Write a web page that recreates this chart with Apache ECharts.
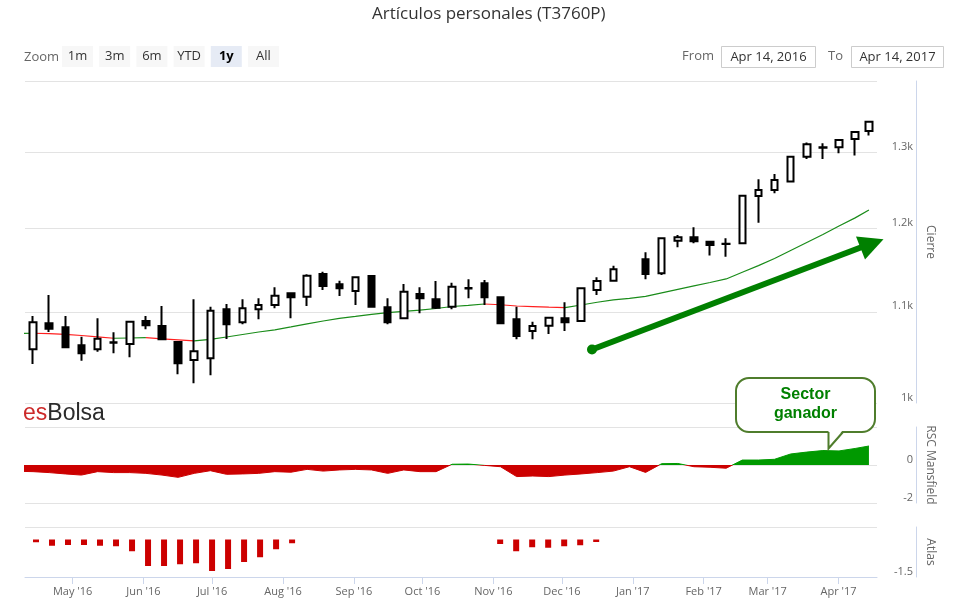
<!DOCTYPE html>
<html><head><meta charset="utf-8">
<script src="https://cdn.jsdelivr.net/npm/echarts@6/dist/echarts.min.js"></script>
<style>html,body{margin:0;padding:0;background:#fff}#c{width:954px;height:608px}</style>
</head><body><div id="c"></div>
<script>
// ---------- DATA ----------
const weekDates = ['2016-04-15','2016-04-22','2016-04-29','2016-05-06','2016-05-13','2016-05-20','2016-05-27',
 '2016-06-03','2016-06-10','2016-06-17','2016-06-24','2016-07-01','2016-07-08','2016-07-15','2016-07-22','2016-07-29',
 '2016-08-05','2016-08-12','2016-08-19','2016-08-26','2016-09-02','2016-09-09','2016-09-16','2016-09-23','2016-09-30',
 '2016-10-07','2016-10-14','2016-10-21','2016-10-28','2016-11-04','2016-11-11','2016-11-18','2016-11-25','2016-12-02',
 '2016-12-09','2016-12-16','2016-12-23','2016-12-30','2017-01-06','2017-01-13','2017-01-20','2017-01-27','2017-02-03',
 '2017-02-10','2017-02-17','2017-02-24','2017-03-03','2017-03-10','2017-03-17','2017-03-24','2017-03-31','2017-04-07','2017-04-13'];
const opens  = [1057.7,1086.9,1082.3,1062.2,1057.7,1065.0,1063.6,1089.5,1083.8,1065.8,1046.0,1047.8,1102.9,1088.0,1102.9,1107.8,
 1121.5,1117.5,1144.4,1132.1,1124.2,1142.0,1105.2,1092.6,1120.7,1114.5,1105.9,1127.0,1133.3,1116.8,1091.4,1078.2,1084.2,1092.6,
 1089.5,1125.4,1136.4,null,1162.1,1145.2,1184.9,1189.1,1183.6,1180.6,1181.7,1241.6,1249.4,1260.3,1293.6,1305.6,1306.4,1317.8,1328.8];
const closes = [1088.0,1080.8,1060.0,1053.3,1069.5,1065.6,1088.7,1084.6,1068.8,1042.4,1055.5,1101.3,1085.7,1104.0,1107.8,1118.7,
 1116.8,1142.3,1130.1,1127.4,1140.4,1105.9,1088.0,1123.4,1115.6,1104.7,1129.3,1127.8,1116.8,1086.9,1072.5,1083.8,1093.3,1088.0,
 1127.4,1136.0,1150.0,null,1144.4,1187.9,1189.1,1184.1,1179.6,1181.0,1241.9,1249.4,1262.5,1293.6,1310.5,1306.2,1316.4,1327.5,1341.8];
const lows   = [1041.6,1077.0,1060.0,1045.2,1055.1,1053.3,1048.9,1080.1,1068.8,1030.5,1020.8,1029.4,1069.2,1085.7,1091.4,1104.0,
 1092.6,1106.7,1125.4,1118.3,1107.8,1104.7,1085.7,1092.6,1098.3,1103.3,1102.9,1115.6,1107.8,1085.7,1068.8,1068.8,1074.8,1078.2,
 1089.5,1119.5,1135.0,null,1138.0,1143.1,1176.7,1181.7,1166.5,1165.2,1181.7,1207.4,1245.0,1259.5,1290.5,1290.5,1298.2,1295.0,1322.4];
const highs  = [1095.2,1119.5,1095.2,1071.8,1092.6,1076.7,1089.8,1095.2,1106.7,1065.8,1114.5,1105.9,1109.0,1114.5,1115.6,1128.5,
 1121.5,1144.0,1147.1,1136.4,1140.4,1143.1,1115.6,1132.4,1128.5,1136.0,1134.0,1138.0,1137.3,1116.8,1105.9,1088.7,1093.3,1111.0,
 1128.5,1140.4,1154.3,null,1170.6,1187.9,1192.0,1201.6,1183.6,1187.9,1241.9,1263.4,1270.5,1293.6,1312.7,1311.9,1316.4,1327.5,1341.8];
const leadDate = '2016-04-08';
const maLead = 1075.4;
const maValues = [1075.6,1075.2,1074.4,1073.1,1071.6,1070.0,1070.3,1070.6,1069.2,1068.1,1067.0,1068.8,1071.4,1074.2,1077.0,1079.5,
 1082.7,1086.2,1089.5,1092.4,1094.7,1097.1,1099.0,1100.4,1101.9,1103.8,1106.1,1107.5,1109.0,1108.1,1106.7,1106.0,1105.3,1104.7,
 1107.8,1111.0,1113.7,1115.5,1117.8,1121.9,1126.0,1130.1,1134.2,1138.4,1146.4,1154.4,1163.0,1172.8,1182.7,1192.6,1203.2,1213.4,1223.5];
const rscLead = -0.33;
const rscValues = [-0.35,-0.40,-0.47,-0.53,-0.35,-0.40,-0.40,-0.44,-0.53,-0.65,-0.44,-0.30,-0.49,-0.47,-0.44,-0.35,-0.38,-0.23,
 -0.32,-0.26,-0.23,-0.26,-0.44,-0.26,-0.35,-0.35,0.04,0.05,-0.02,-0.09,-0.61,-0.58,-0.61,-0.53,-0.47,-0.40,-0.32,-0.09,-0.39,
 0.07,0.08,-0.09,-0.12,-0.17,0.26,0.26,0.30,0.58,0.68,0.76,0.74,0.87,1.0];
const atlasValues = [-0.11,-0.25,-0.22,-0.22,-0.25,-0.27,-0.47,-1.06,-1.06,-0.99,-0.95,-1.26,-1.18,-0.90,-0.71,-0.39,-0.15,
 null,null,null,null,null,null,null,null,null,null,null,null,-0.18,-0.47,-0.31,-0.33,-0.27,-0.23,-0.10,
 null,null,null,null,null,null,null,null,null,null,null,null,null,null,null,null,null];
const priceTicks = [1000,1100,1200,1300,1400];
const priceLabels = [1000,1100,1200,1300];
const rangeButtons = ['1m','3m','6m','YTD','1y','All'];
const selectedButton = '1y';
const fromText = 'Apr 14, 2016';
const toText = 'Apr 14, 2017';
const titleText = 'Artículos personales (T3760P)';

// ---------- BUILD ----------
const FONT = '"Open Sans", "Noto Sans", sans-serif';
const AFONT = '"Liberation Sans", Arial, sans-serif';
const MONTHS = ['Jan','Feb','Mar','Apr','May','Jun','Jul','Aug','Sep','Oct','Nov','Dec'];
function t(s){ const p = s.split('-').map(Number); return new Date(p[0], p[1]-1, p[2]).getTime(); }
const DAY = 86400000;
const xMin = new Date(2016,3,11,12).getTime();
const xMax = new Date(2017,3,16,12).getTime();

const candles = [];
weekDates.forEach((d,i)=>{ if (opens[i]!=null) candles.push([t(d), opens[i], closes[i], lows[i], highs[i]]); });

const maPts = [[t(leadDate), maLead]].concat(weekDates.map((d,i)=>[t(d), maValues[i]]));
const maRuns = [];
for (let i=0;i<maPts.length-1;i++){
  const down = maPts[i+1][1] < maPts[i][1];
  const last = maRuns[maRuns.length-1];
  if (last && last.down===down) last.pts.push(maPts[i+1]);
  else maRuns.push({down, pts:[maPts[i], maPts[i+1]]});
}
const rscData = [[t(leadDate), rscLead]].concat(weekDates.map((d,i)=>[t(d), rscValues[i]]));
const atlasData = weekDates.map((d,i)=>[t(d), atlasValues[i]==null ? '-' : atlasValues[i]]);

const axisColor = '#ccd6eb', gridColor = '#e3e3e3', labelColor = '#666666';
function yBase(grid, name){
  return {
    gridIndex: grid, position:'right', offset:39,
    axisLine:{show:true, onZero:false, lineStyle:{color:axisColor, width:1}},
    splitLine:{show:true, lineStyle:{color:gridColor, width:1}},
    name:name, nameLocation:'middle', nameRotate:-90, nameGap:8,
    nameTextStyle:{color:labelColor, fontSize:12, fontFamily:FONT}
  };
}
const labelStyle = {inside:true, color:labelColor, fontSize:11, fontFamily:FONT, margin:3, verticalAlign:'bottom'};

// sign colouring of the RSC area: hard stop at the pane's zero line (pane 427..503, zero in the middle)
const rscRed = '#cc0000', rscGreen = '#009900';
const signGradient = {type:'linear', x:0, y:427, x2:0, y2:503, global:true,
  colorStops:[{offset:0,color:rscGreen},{offset:0.5,color:rscGreen},{offset:0.5,color:rscRed},{offset:1,color:rscRed}]};

const series = [{
  type:'candlestick', xAxisIndex:0, yAxisIndex:0, data:candles, barWidth:7, z:3,
  itemStyle:{color:'#ffffff', color0:'#000000', borderColor:'#000000', borderColor0:'#000000', borderColorDoji:'#000000', borderWidth:2}
}];
maRuns.forEach(r=>series.push({
  type:'line', xAxisIndex:0, yAxisIndex:0, data:r.pts, symbol:'none', z:2, silent:true,
  lineStyle:{color: r.down ? '#ff2020' : '#1a8c1a', width:1.2}
}));
series.push({type:'line', xAxisIndex:1, yAxisIndex:1, data:rscData, symbol:'none',
  lineStyle:{width:1, color:signGradient}, itemStyle:{color:rscRed}, areaStyle:{opacity:1, origin:0, color:signGradient}});
series.push({type:'bar', xAxisIndex:2, yAxisIndex:2, data:atlasData, barWidth:6, itemStyle:{color:'#cc0000'}});

// graphics: range selector, watermark, annotation
const graphics = [];
graphics.push({type:'text', x:24, y:57, style:{text:'Zoom', fill:'#666', font:'13px '+FONT, verticalAlign:'middle'}});
rangeButtons.forEach((b,k)=>{
  const x = 62 + 37.2*k, sel = b===selectedButton;
  graphics.push({type:'rect', shape:{x:x, y:46, width:31, height:21}, style:{fill: sel ? '#e6ebf5' : '#f7f7f7'}});
  graphics.push({type:'text', x:x+15.5, y:56.5, style:{text:b, fill: sel ? '#000' : '#333', font:(sel?'bold ':'')+'13px '+FONT, align:'center', verticalAlign:'middle'}});
});
graphics.push({type:'text', x:714, y:56.5, style:{text:'From', fill:'#666', font:'13px '+FONT, align:'right', verticalAlign:'middle'}});
graphics.push({type:'rect', shape:{x:721.5, y:46.5, width:94, height:21}, style:{fill:'#fff', stroke:'#cccccc', lineWidth:1}});
graphics.push({type:'text', x:768.5, y:57, style:{text:fromText, fill:'#333', font:'13px '+FONT, align:'center', verticalAlign:'middle'}});
graphics.push({type:'text', x:843, y:56.5, style:{text:'To', fill:'#666', font:'13px '+FONT, align:'right', verticalAlign:'middle'}});
graphics.push({type:'rect', shape:{x:851.5, y:46.5, width:92, height:21}, style:{fill:'#fff', stroke:'#cccccc', lineWidth:1}});
graphics.push({type:'text', x:897.5, y:57, style:{text:toText, fill:'#333', font:'13px '+FONT, align:'center', verticalAlign:'middle'}});
// watermark
graphics.push({type:'text', left:23, top:402, z:1, style:{text:'{a|es}{b|Bolsa}', rich:{
  a:{fill:'#cc2a2a', fontSize:23, fontFamily:AFONT}, b:{fill:'#2b2b2b', fontSize:23, fontFamily:AFONT}}}});
// arrow
graphics.push({type:'line', z:10, shape:{x1:592, y1:349.5, x2:862, y2:247}, style:{stroke:'#008000', lineWidth:6}});
graphics.push({type:'circle', z:10, shape:{cx:592, cy:349.5, r:5}, style:{fill:'#008000'}});
graphics.push({type:'polygon', z:10, shape:{points:[[883.5,239.3],[856,236.5],[865,259.5]]}, style:{fill:'#008000'}});
// callout
graphics.push({type:'rect', z:10, shape:{x:736, y:378, width:139, height:54, r:13}, style:{fill:'#fff', stroke:'#4f7d2c', lineWidth:2}});
graphics.push({type:'polygon', z:11, shape:{points:[[828.5,430],[828.5,448],[843,430]]}, style:{fill:'#fff'}});
graphics.push({type:'polyline', z:11, shape:{points:[[828.5,432],[828.5,448.5],[843,432]]}, style:{stroke:'#4f7d2c', lineWidth:2, fill:null}});
graphics.push({type:'text', z:12, x:805.5, y:404.5, style:{text:'Sector\nganador', fill:'#008000', font:'bold 16px '+AFONT, align:'center', verticalAlign:'middle', lineHeight:19}});

const chart = echarts.init(document.getElementById('c'), null, {renderer:'canvas'});
chart.setOption({
  animation:false,
  backgroundColor:'#ffffff',
  title:{text:titleText, left:367, top:1, textStyle:{fontSize:17, fontWeight:'normal', color:'#333333', fontFamily:FONT}},
  grid:[
    {left:25, right:77, top:81, height:322},
    {left:25, right:77, top:427, height:76},
    {left:25, right:77, top:527, height:50}
  ],
  xAxis:[
    {type:'time', gridIndex:0, min:xMin, max:xMax, show:false},
    {type:'time', gridIndex:1, min:xMin, max:xMax, show:false},
    {type:'time', gridIndex:2, min:xMin, max:xMax, minInterval:28*DAY, maxInterval:31*DAY,
      axisLine:{show:true, onZero:false, lineStyle:{color:axisColor}},
      axisTick:{show:true, length:7, lineStyle:{color:axisColor}},
      axisLabel:{color:labelColor, fontSize:11, fontFamily:FONT, margin:9, hideOverlap:false,
        formatter:(v)=>{const d=new Date(v); return MONTHS[d.getMonth()]+" '"+String(d.getFullYear()).slice(2);}},
      splitLine:{show:false}}
  ],
  yAxis:[
    Object.assign(yBase(0,'Cierre'), {type:'log', min:1000, max:1400,
      axisTick:{show:false, customValues:priceTicks},
      axisLabel:Object.assign({}, labelStyle, {customValues:priceLabels, formatter:(v)=>(Math.round(v/100)/10)+'k'})}),
    Object.assign(yBase(1,'RSC Mansfield'), {type:'value', min:-2, max:2, interval:2,
      axisTick:{show:false},
      axisLabel:Object.assign({}, labelStyle, {formatter:(v)=> v===2 ? '' : String(v)})}),
    Object.assign(yBase(2,'Atlas'), {type:'value', min:-1.5, max:0.5, interval:2,
      axisTick:{show:false},
      axisLabel:Object.assign({}, labelStyle, {formatter:(v)=> v===-1.5 ? '-1.5' : ''})})
  ],
  graphic:graphics,
  series:series
});
</script></body></html>
